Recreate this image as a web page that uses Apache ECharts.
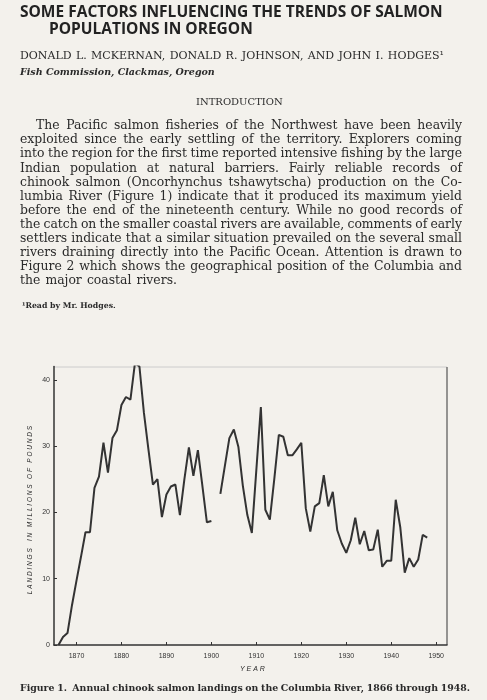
<!DOCTYPE html>
<html><head><meta charset="utf-8">
<script src="https://cdn.jsdelivr.net/npm/echarts@6/dist/echarts.min.js"></script>
<style>html,body{margin:0;padding:0;background:#f3f1ec}#c{width:487px;height:700px}</style>
</head><body><div id="c"></div>
<script>
const years1 = [1866,1867,1868,1869,1870,1871,1872,1873,1874,1875,1876,1877,1878,1879,1880,1881,1882,1883,1884,1885,1886,1887,1888,1889,1890,1891,1892,1893,1894,1895,1896,1897,1898,1899,1900];
const landings1 = [0,1.2,1.8,6,9.7,13.3,17,17,23.7,25.4,30.5,26,31.2,32.4,36.2,37.4,37,42.5,42,35,29.5,24.2,25,19.3,22.7,23.9,24.2,19.6,25,29.8,25.5,29.4,24,18.5,18.7];
const years2 = [1902,1903,1904,1905,1906,1907,1908,1909,1910,1911,1912,1913,1914,1915,1916,1917,1918,1919,1920,1921,1922,1923,1924,1925,1926,1927,1928,1929,1930,1931,1932,1933,1934,1935,1936,1937,1938,1939,1940,1941,1942,1943,1944,1945,1946,1947,1948];
const landings2 = [22.8,27,31.2,32.5,29.9,24,19.6,16.9,26.4,35.9,20.4,18.9,25.1,31.7,31.4,28.6,28.6,29.5,30.5,20.6,17.1,20.9,21.4,25.6,20.9,23.1,17.3,15.3,13.9,15.8,19.2,15.2,17.2,14.3,14.4,17.4,11.8,12.7,12.7,21.9,17.8,10.9,13.1,11.8,12.9,16.6,16.2];
const xTicks = [1870,1880,1890,1900,1910,1920,1930,1940,1950];
const yTicks = [0,10,20,30,40];
const paragraph = [
"The Pacific salmon fisheries of the Northwest have been heavily",
"exploited since the early settling of the territory. Explorers coming",
"into the region for the first time reported intensive fishing by the large",
"Indian population at natural barriers. Fairly reliable records of",
"chinook salmon (Oncorhynchus tshawytscha) production on the Co-",
"lumbia River (Figure 1) indicate that it produced its maximum yield",
"before the end of the nineteenth century. While no good records of",
"the catch on the smaller coastal rivers are available, comments of early",
"settlers indicate that a similar situation prevailed on the several small",
"rivers draining directly into the Pacific Ocean. Attention is drawn to",
"Figure 2 which shows the geographical position of the Columbia and",
"the major coastal rivers."
];
const serif = '"DejaVu Serif",serif';
const ink = '#2a2a2a';
const cv = document.createElement('canvas').getContext('2d');
function justify(g, text, x0, x1, top, font, last){
  cv.font = font;
  const words = text.split(' ');
  const ws = words.map(w=>cv.measureText(w).width);
  const total = ws.reduce((a,b)=>a+b,0);
  const space = cv.measureText(' ').width;
  const gap = last ? space*1.3 : (x1-x0-total)/(words.length-1);
  let x = x0;
  words.forEach((w,i)=>{
    g.push({type:'text',left:x,top:top,style:{text:w,font:font,fill:ink}});
    x += ws[i]+gap;
  });
}
const g = [];
g.push({type:'text',left:20,top:5,style:{text:'SOME FACTORS INFLUENCING THE TRENDS OF SALMON',font:'bold 15.5px "Open Sans",sans-serif',fill:'#222'}});
g.push({type:'text',left:49,top:22,style:{text:'POPULATIONS IN OREGON',font:'bold 15.5px "Open Sans",sans-serif',fill:'#222'}});
justify(g,'DONALD L. MCKERNAN, DONALD R. JOHNSON, AND JOHN I. HODGES¹',20,444,51,'11px '+serif,false);
g.push({type:'text',left:20,top:68,style:{text:'Fish Commission, Clackmas, Oregon',font:'italic bold 9.5px '+serif,fill:ink}});
g.push({type:'text',left:196,top:97,style:{text:'INTRODUCTION',font:'10px '+serif,fill:ink}});
paragraph.forEach((t,i)=>{
  justify(g,t,i===0?36:20,462,120+i*14.1,'12.4px '+serif,i===paragraph.length-1);
});
g.push({type:'text',left:22,top:302,style:{text:'¹Read by Mr. Hodges.',font:'bold 7.8px '+serif,fill:ink}});
justify(g,'Figure 1.  Annual chinook salmon landings on the Columbia River, 1866 through 1948.',20,470,684,'bold 9.4px '+serif,false);
g.push({type:'text',left:240,top:666,style:{text:'Y E A R',font:'italic 7px sans-serif',fill:ink}});
g.push({type:'text',x:30,y:510,rotation:Math.PI/2,style:{text:'L A N D I N G S    I N   M I L L I O N S   O F   P O U N D S',font:'italic 6.5px sans-serif',fill:ink,align:'center',verticalAlign:'middle'}});
g.push({type:'line',shape:{x1:54,y1:367,x2:447,y2:367},style:{stroke:'#ccc',lineWidth:1}});
g.push({type:'line',shape:{x1:447,y1:367,x2:447,y2:645},style:{stroke:'#555',lineWidth:1.2}});
const lineStyle={color:'#333',width:2};
const chart = echarts.init(document.getElementById('c'));
chart.setOption({
  backgroundColor:'#f3f1ec',
  animation:false,
  grid:{left:54,right:40,top:366.5,bottom:55},
  xAxis:{type:'value',min:1865,max:1952.4,
    axisLine:{lineStyle:{color:'#333',width:1.5}},
    axisTick:{customValues:xTicks,length:-3,lineStyle:{color:'#333'}},
    axisLabel:{customValues:xTicks,formatter:v=>String(v),fontSize:7,color:'#333',margin:8},
    splitLine:{show:false}},
  yAxis:{type:'value',min:0,max:42,
    axisLine:{show:true,lineStyle:{color:'#333',width:1.5}},
    axisTick:{show:true,customValues:yTicks,length:-3,lineStyle:{color:'#333'}},
    axisLabel:{customValues:yTicks,fontSize:7,color:'#333',margin:4},
    splitLine:{show:false}},
  series:[
    {type:'line',data:years1.map((y,i)=>[y,landings1[i]]),showSymbol:false,lineStyle},
    {type:'line',data:years2.map((y,i)=>[y,landings2[i]]),showSymbol:false,lineStyle}
  ],
  graphic:g
});
</script></body></html>
